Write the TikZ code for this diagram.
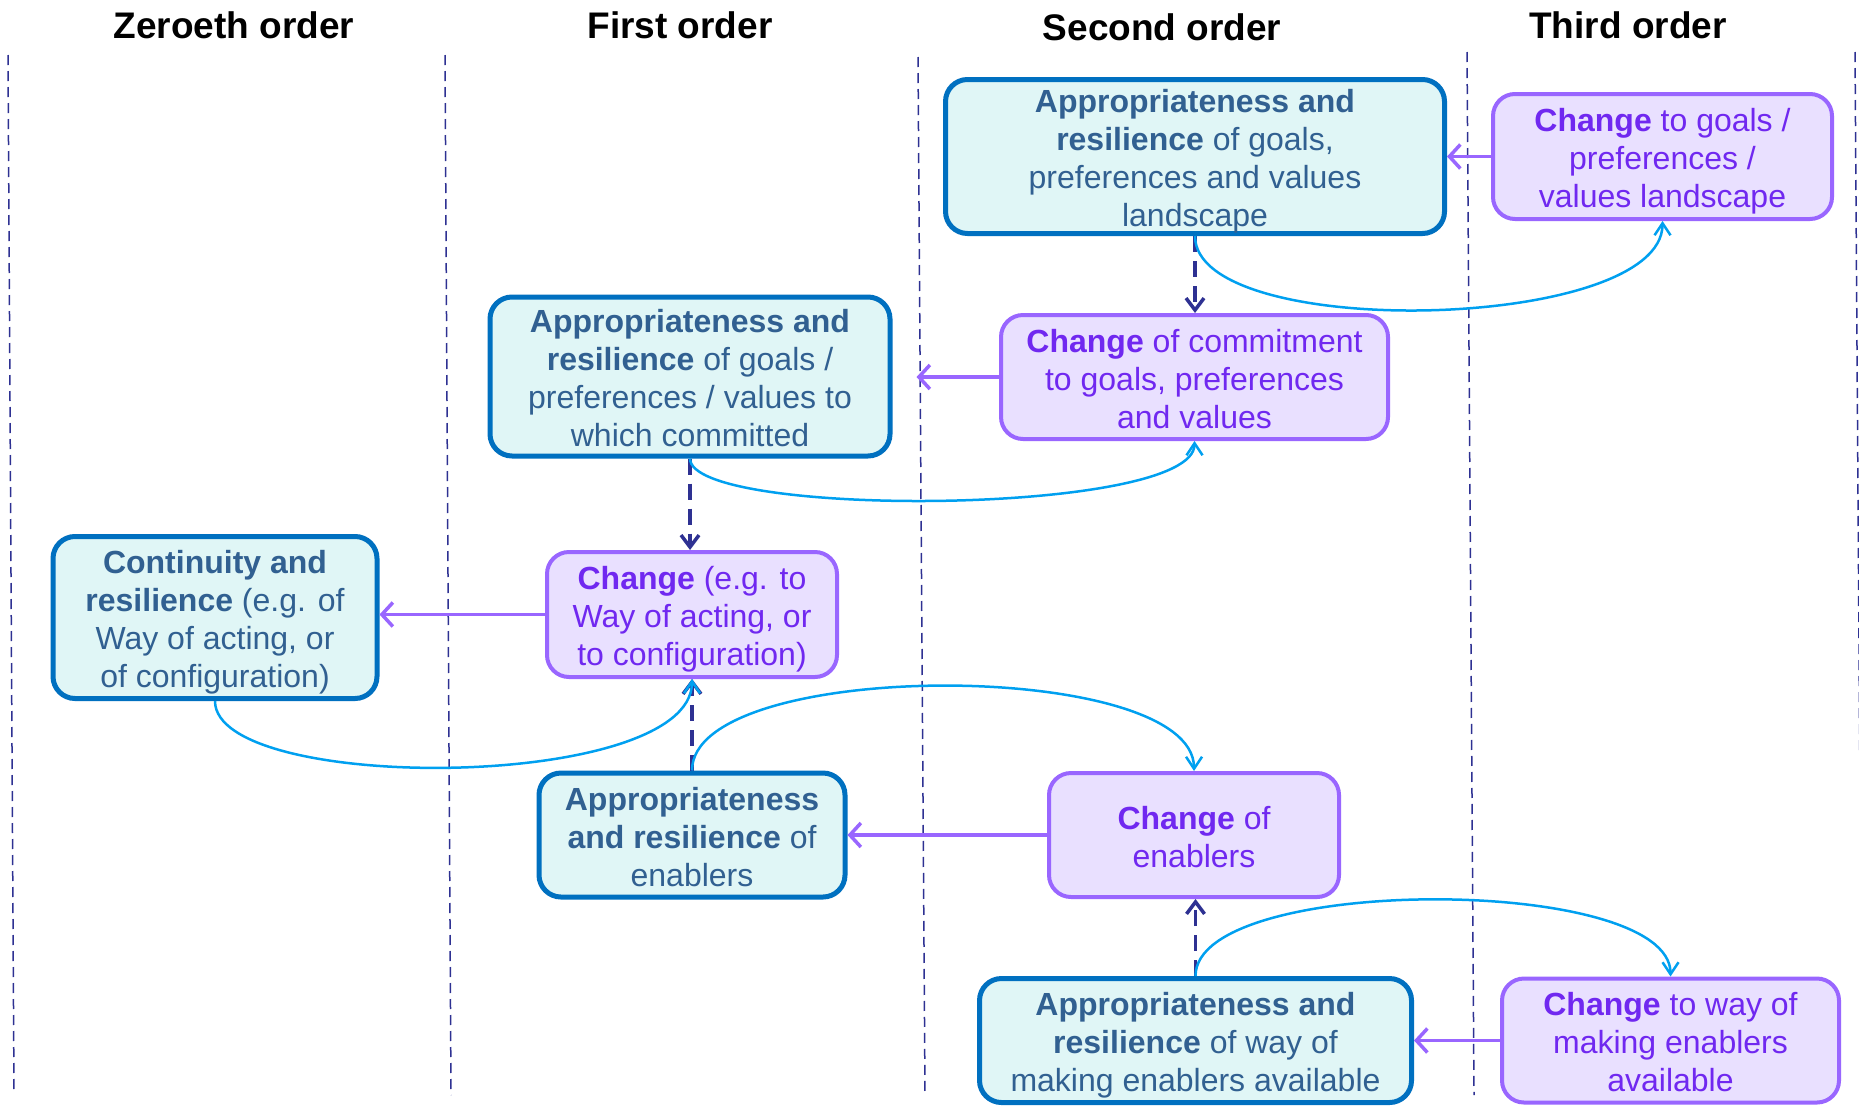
\documentclass[tikz,border=0pt]{standalone}
\usepackage{fontspec}
\setmainfont{Liberation Sans}
\usetikzlibrary{arrows.meta}
\definecolor{tealfill}{RGB}{224,246,246}
\definecolor{tealline}{RGB}{0,112,192}
\definecolor{tealtext}{RGB}{49,96,145}
\definecolor{purpfill}{RGB}{233,224,255}
\definecolor{purpline}{RGB}{153,102,255}
\definecolor{purptext}{RGB}{112,40,240}
\definecolor{navy}{RGB}{46,49,146}
\definecolor{sky}{RGB}{0,160,240}
% extra room above the first and below the last line of a box text
\newcommand\toppad{\rule{0pt}{33pt}}
\newcommand\botpad{\rule[-7pt]{0pt}{7pt}}
\begin{document}
\begin{tikzpicture}[x=1pt,y=-1pt,
  boxtext/.style={align=center, inner sep=0pt, font=\fontsize{32}{38}\selectfont},
  tealbox/.style={boxtext, draw=tealline, line width=5pt, fill=tealfill,
    rounded corners=22pt, text=tealtext},
  purpbox/.style={boxtext, draw=purpline, line width=4pt, fill=purpfill,
    rounded corners=22pt, text=purptext},
  header/.style={font=\fontsize{37}{44}\selectfont\bfseries, text=black},
  divider/.style={draw=navy, line width=1.5pt, dash pattern=on 10pt off 6pt},
  feed/.style={draw=purpline, line width=3.5pt,
    -{Straight Barb[length=11pt,width=24pt]}},
  enable/.style={draw=navy, line width=3.5pt, dash pattern=on 16pt off 9pt,
    -{Straight Barb[length=12pt,width=18pt]}},
  loop/.style={draw=sky, line width=2.5pt,
    -{Straight Barb[length=12pt,width=16pt]}}
]
\useasboundingbox (0,0) rectangle (1859,1106);
\fill[white] (0,0) rectangle (1859,1106);

% column separators
\draw[divider] (8,55) -- (14,1092);
\draw[divider] (445,55) -- (451,1095);
\draw[divider] (918,57) -- (925,1095);
\draw[divider] (1467,52) -- (1474,1095);
\draw[divider] (1855,52) -- (1862,1095);

% column headings
\node[header] (h0) at (234,25) {Zeroeth order};
\node[header] (h1) at (680,25) {First order};
\node[header] (h2) at (1162,27) {Second order};
\node[header] (h3) at (1628,25) {Third order};

% boxes
\node[tealbox, minimum width=499pt, minimum height=151pt] (b1) at (1195,156.5)
  {\toppad\textbf{Appropriateness and}\\\textbf{resilience} of goals,\\preferences and values\\landscape\botpad};
\node[purpbox, minimum width=339pt, minimum height=125pt] (b2) at (1662.5,156.5)
  {\toppad\textbf{Change} to goals /\\preferences /\\values landscape\botpad};
\node[tealbox, minimum width=400pt, minimum height=159pt] (b3) at (690,376.5)
  {\toppad\textbf{Appropriateness and}\\\textbf{resilience} of goals /\\preferences / values to\\which committed\botpad};
\node[purpbox, minimum width=387pt, minimum height=124pt] (b4) at (1194.5,377)
  {\toppad\textbf{Change} of commitment\\to goals, preferences\\and values\botpad};
\node[tealbox, minimum width=324pt, minimum height=162pt] (b5) at (215,617.5)
  {\toppad\textbf{Continuity and}\\\textbf{resilience} (e.g. of\\Way of acting, or\\of configuration)\botpad};
\node[purpbox, minimum width=290pt, minimum height=125pt] (b6) at (692,614.5)
  {\toppad\textbf{Change} (e.g. to\\Way of acting, or\\to configuration)\botpad};
\node[tealbox, minimum width=306pt, minimum height=124pt] (b7) at (692,835)
  {\toppad\textbf{Appropriateness}\\\textbf{and resilience} of\\enablers\botpad};
\node[purpbox, minimum width=290pt, minimum height=124pt] (b8) at (1194,835)
  {\toppad\textbf{Change} of\\enablers\botpad};
\node[tealbox, minimum width=432pt, minimum height=124pt] (b9) at (1195.5,1040.5)
  {\toppad\textbf{Appropriateness and}\\\textbf{resilience} of way of\\making enablers available\botpad};
\node[purpbox, minimum width=337pt, minimum height=124pt] (b10) at (1670.5,1040.5)
  {\toppad\textbf{Change} to way of\\making enablers\\available\botpad};

% change feeding back into the order below
\draw[feed] (b2.west) -- (b2.west -| b1.east);
\draw[feed, shorten >=24pt] (b4.west) -- (b4.west -| b3.east);
\draw[feed] (b6.west) -- (b6.west -| b5.east);
\draw[feed] (b8.west) -- (b8.west -| b7.east);
\draw[feed] (b10.west) -- (b10.west -| b9.east);

% enabling links
\draw[enable] (b1.south) -- (b1.south |- b4.north);
\draw[enable] (b3.south) -- (b3.south |- b6.north);
\draw[enable] (b7.north) -- (b7.north |- b6.south);
\draw[enable] (b9.north) -- (b9.north |- b8.south);

% loops
\draw[loop] (b1.south) .. controls +(0,106) and +(0,111) .. (b2.south);
\draw[loop] (b3.south) .. controls +(0,60) and +(0,75) .. (b4.south);
\draw[loop] (b5.south) .. controls +(0,93) and +(0,113) .. (b6.south);
\draw[loop] (b7.north) .. controls +(0,-113) and +(0,-113) .. (b8.north);
\draw[loop] (b9.north) .. controls +(0,-102) and +(0,-102) .. (b10.north);
\end{tikzpicture}
\end{document}
